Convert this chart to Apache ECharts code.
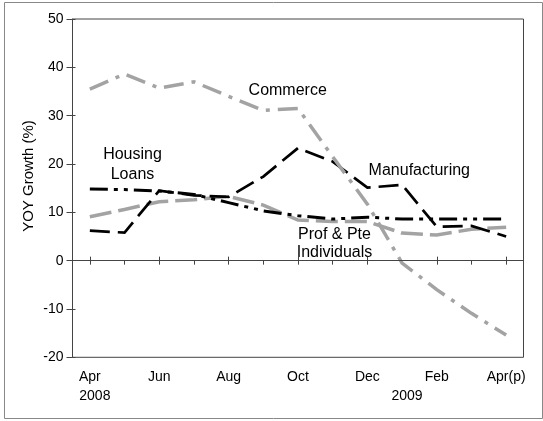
<!DOCTYPE html>
<html><head><meta charset="utf-8">
<script src="https://cdn.jsdelivr.net/npm/echarts@6/dist/echarts.min.js"></script>
<style>html,body{margin:0;padding:0;background:#fff}#c{width:543px;height:421px}</style>
</head><body><div id="c"></div>
<script>
// ---- data ----
const months = ['Apr','May','Jun','Jul','Aug','Sep','Oct','Nov','Dec','Jan','Feb','Mar','Apr(p)'];
const monthLabels = ['Apr','','Jun','','Aug','','Oct','','Dec','','Feb','','Apr(p)'];
const yearLabels = ['2008','','','','','','','','','2009','','',''];
const commerce      = [35.5,38.6,35.7,37.0,34.0,31.1,31.5,21.5,11.7,-0.5,-6.0,-10.9,-15.4];
const manufacturing = [6.2,5.8,14.5,13.5,13.2,17.4,23.3,20.5,15.1,15.7,7.0,7.2,5.0];
const housing       = [14.8,14.7,14.4,13.7,12.0,10.3,9.3,8.6,9.0,8.6,8.6,8.6,8.6];
const prof          = [9.1,10.6,12.2,12.6,13.3,11.5,8.4,8.1,8.1,5.7,5.3,6.5,6.9];
const yMin = -20, yMax = 50, yStep = 10;
const yAxisTitle = 'YOY Growth (%)';
const annotations = ['Housing\nLoans','Commerce','Manufacturing','Prof & Pte\nIndividuals'];

const FONT = 'Liberation Sans, Arial, sans-serif';
const GRAY = '#a3a3a3';
const AX = '#444';

const chart = echarts.init(document.getElementById('c'), null, {renderer:'canvas'});

const baseX = {
  type:'category', data: months, boundaryGap:true, gridIndex:0
};
const baseY = {type:'value', min:yMin, max:yMax, interval:yStep, gridIndex:0, splitLine:{show:false}};

function line(name, data, color, width, dash) {
  return {name, type:'line', data, symbol:'none', smooth:false, xAxisIndex:0, yAxisIndex:0,
    lineStyle:{color, width, type:dash, cap:'butt', join:'miter'}, z:3};
}

const series = [
  line('Prof & Pte Individuals', prof, GRAY, 3.5, [22,7]),
  line('Housing Loans', housing, '#000', 3, [18,6,4,6,4,6]),
  line('Manufacturing', manufacturing, '#000', 2.7, [20,8]),
  line('Commerce', commerce, GRAY, 3.5, [20,8,4,8]),
];
series[0].markLine = {silent:true, symbol:'none', animation:false, label:{show:false},
  lineStyle:{color:AX, width:1, type:'solid'}, data:[{yAxis:0}]};

chart.setOption({
  animation:false,
  textStyle:{fontFamily:FONT, color:'#000'},
  grid:{left:72.5, right:19.5, top:19, bottom:63.7, show:true, borderColor:AX, borderWidth:1, containLabel:false},
  xAxis:[
    Object.assign({}, baseX, {position:'bottom',
      axisLine:{show:true, lineStyle:{color:AX, width:1}},
      axisTick:{show:true, alignWithLabel:true, length:4, inside:false, lineStyle:{color:AX, width:1}},
      axisLabel:{interval:0, margin:10, color:'#000', fontFamily:FONT,
        formatter:(v, i) => '{m|' + (monthLabels[i] || ' ') + '}\n{y|' + (yearLabels[i] || ' ') + '}',
        rich:{
          m:{fontSize:14, lineHeight:19, fontFamily:FONT, color:'#000'},
          y:{fontSize:14, lineHeight:19, fontFamily:FONT, color:'#000', padding:[0,0,0,10]}
        }}}),
    Object.assign({}, baseX, {position:'bottom',
      axisLine:{show:false},
      axisTick:{show:true, alignWithLabel:true, length:4, inside:true, lineStyle:{color:AX, width:1}},
      axisLabel:{show:false}})
  ],
  yAxis:[
    Object.assign({}, baseY, {position:'left',
      axisLine:{show:true, lineStyle:{color:AX, width:1}},
      axisTick:{show:true, length:6, inside:false, lineStyle:{color:AX, width:1}},
      axisLabel:{margin:9, fontSize:14, color:'#000', fontFamily:FONT}}),
    Object.assign({}, baseY, {position:'left',
      axisLine:{show:false},
      axisTick:{show:true, length:3, inside:true, lineStyle:{color:AX, width:1}},
      axisLabel:{show:false}})
  ],
  series,
  graphic:[
    {type:'rect', shape:{x:4.5, y:2.5, width:538, height:416}, style:{fill:'none', stroke:'#888', lineWidth:1}, silent:true, z:-1},
    {type:'text', x:29, y:176, rotation:Math.PI/2, style:{text:yAxisTitle, fontSize:15, fontFamily:FONT, fill:'#000', align:'center', verticalAlign:'middle'}},
    {type:'text', x:132.5, y:165, style:{text:annotations[0], fontSize:16, lineHeight:20, fontFamily:FONT, fill:'#000', align:'center', verticalAlign:'middle'}},
    {type:'text', x:287.7, y:91, style:{text:annotations[1], fontSize:16, fontFamily:FONT, fill:'#000', align:'center', verticalAlign:'middle'}},
    {type:'text', x:419.3, y:171, style:{text:annotations[2], fontSize:16, fontFamily:FONT, fill:'#000', align:'center', verticalAlign:'middle'}},
    {type:'text', x:334.5, y:243.6, style:{text:annotations[3], fontSize:16, lineHeight:18.5, fontFamily:FONT, fill:'#000', align:'center', verticalAlign:'middle'}}
  ]
});
</script>
</body></html>
